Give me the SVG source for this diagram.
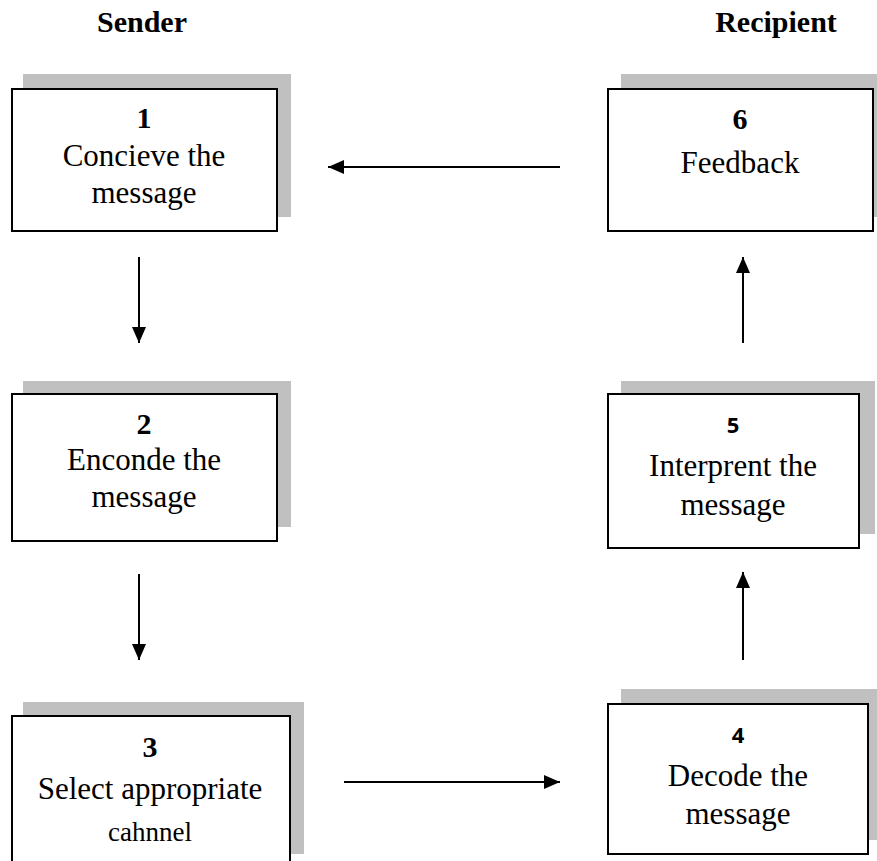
<svg xmlns="http://www.w3.org/2000/svg" width="877" height="861" viewBox="0 0 877 861">
<style>
.shadow{fill:#c0c0c0;stroke:none}
.box{fill:#fff;stroke:#000;stroke-width:2}
.t{font-family:"Liberation Serif","Times New Roman",serif;font-size:31px;fill:#000;text-anchor:middle}
.sm{font-size:27px}
.n{font-family:"Liberation Serif","Times New Roman",serif;font-size:30px;font-weight:bold;fill:#000;text-anchor:middle}
.ns{font-family:"Open Sans","Liberation Sans",sans-serif;font-size:22px;font-weight:bold;fill:#000;text-anchor:middle}
.h{font-family:"Liberation Serif","Times New Roman",serif;font-size:30px;font-weight:bold;fill:#000;text-anchor:middle}
.c{stroke:#000;stroke-width:2;fill:none;marker-end:url(#ah)}
</style>
<defs>
<marker id="ah" markerUnits="userSpaceOnUse" markerWidth="16" markerHeight="16" refX="16" refY="8" orient="auto">
<path d="M0,1 L16,8 L0,15 Z" fill="#000"/>
</marker>
</defs>
<rect width="877" height="861" fill="#fff"/>
<g id="headers">
<text class="h" x="142" y="32">Sender</text>
<text class="h" x="776" y="32">Recipient</text>
</g>
<g id="node1">
<rect class="shadow" x="23" y="74" width="268" height="143"/>
<rect class="box" x="12" y="89" width="265" height="142"/>
<text class="n" x="144" y="128">1</text>
<text class="t" x="144" y="166">Concieve the</text>
<text class="t" x="144" y="203">message</text>
</g>
<g id="node2">
<rect class="shadow" x="23" y="381" width="268" height="146"/>
<rect class="box" x="12" y="394" width="265" height="147"/>
<text class="n" x="144" y="434">2</text>
<text class="t" x="144" y="470">Enconde the</text>
<text class="t" x="144" y="507">message</text>
</g>
<g id="node3">
<rect class="shadow" x="23" y="702" width="281" height="152"/>
<rect class="box" x="12" y="716" width="278" height="160"/>
<text class="n" x="150" y="757">3</text>
<text class="t" x="150" y="799">Select appropriate</text>
<text class="t sm" x="150" y="841">cahnnel</text>
</g>
<g id="node4">
<rect class="shadow" x="621" y="689" width="270" height="151"/>
<rect class="box" x="608" y="704" width="260" height="150"/>
<text class="ns" x="738" y="743">4</text>
<text class="t" x="738" y="786">Decode the</text>
<text class="t" x="738" y="824">message</text>
</g>
<g id="node5">
<rect class="shadow" x="621" y="381" width="254" height="153"/>
<rect class="box" x="608" y="394" width="251" height="154"/>
<text class="ns" x="733" y="433">5</text>
<text class="t" x="733" y="476">Interprent the</text>
<text class="t" x="733" y="515">message</text>
</g>
<g id="node6">
<rect class="shadow" x="621" y="74" width="270" height="143"/>
<rect class="box" x="608" y="89" width="265" height="142"/>
<text class="n" x="740" y="129">6</text>
<text class="t" x="740" y="173">Feedback</text>
</g>
<g id="connectors">
<line class="c" x1="560" y1="167" x2="328" y2="167"/>
<line class="c" x1="139" y1="257" x2="139" y2="343"/>
<line class="c" x1="139" y1="574" x2="139" y2="660"/>
<line class="c" x1="344" y1="782" x2="560" y2="782"/>
<line class="c" x1="743" y1="660" x2="743" y2="572"/>
<line class="c" x1="743" y1="343" x2="743" y2="257"/>
</g>
</svg>
